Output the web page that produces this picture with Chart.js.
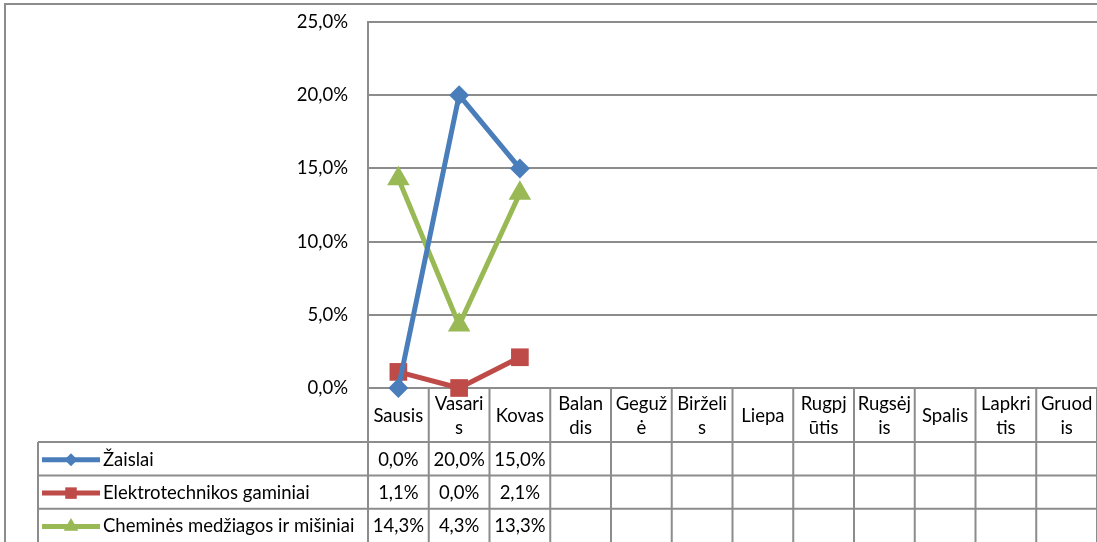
<!DOCTYPE html>
<html>
<head>
<meta charset="utf-8">
<script src="https://cdn.jsdelivr.net/npm/chart.js@4.4.1/dist/chart.umd.min.js"></script>
<style>
  html, body { margin: 0; padding: 0; background: #fff; overflow: hidden; }
  #wrap { width: 1110px; height: 542px; }
</style>
</head>
<body>
<div id="wrap"><canvas id="chart"></canvas></div>
<script>
// month labels, split the way the table cells wrap them
const months = [['Sausis'], ['Vasari', 's'], ['Kovas'], ['Balan', 'dis'], ['Geguž', 'ė'], ['Birželi', 's'],
                ['Liepa'], ['Rugpj', 'ūtis'], ['Rugsėj', 'is'], ['Spalis'], ['Lapkri', 'tis'], ['Gruod', 'is']];
const seriesNames = ['Žaislai', 'Elektrotechnikos gaminiai', 'Cheminės medžiagos ir mišiniai'];
const zaislai  = [0.000, 0.200, 0.150, null, null, null, null, null, null, null, null, null];
const elektro  = [0.011, 0.000, 0.021, null, null, null, null, null, null, null, null, null];
const chemines = [0.143, 0.043, 0.133, null, null, null, null, null, null, null, null, null];
const yMin = 0, yMax = 0.25, yStep = 0.05;

const colors = ['#4A7EBB', '#BE4B48', '#98B954'];
const shapes = ['rectRot', 'rect', 'triangle'];
const radii = [10, 12.5, 13];
const gridColor = '#8c8c8c';
const FS = 18.5;
const FONT = FS + 'px Lato';

const pct = v => (v * 100).toFixed(1).replace('.', ',') + '%';

// data table under the plot, drawn from the x scale columns
const tablePlugin = {
  id: 'dataTable',
  beforeDatasetsDraw(chart) {
    const { ctx, chartArea: a, scales: { x } } = chart;
    const colW = x.getPixelForValue(1) - x.getPixelForValue(0);
    const hdrBottom = a.bottom + 54;
    const rowH = 33.4;
    const H = chart.height;
    const tableLeft = 38;
    const series = chart.data.datasets;

    ctx.save();
    ctx.strokeStyle = gridColor;
    ctx.lineWidth = 2;
    ctx.beginPath();
    // outer frame of the chart object
    ctx.moveTo(5, H); ctx.lineTo(5, 4); ctx.lineTo(chart.width, 4);
    // column separators
    for (let i = 0; i <= months.length; i++) {
      const cx = a.left + i * colW;
      ctx.moveTo(cx, a.bottom);
      ctx.lineTo(cx, H);
    }
    // rows
    for (let r = 0; r < series.length; r++) {
      const ry = hdrBottom + r * rowH;
      ctx.moveTo(tableLeft, ry);
      ctx.lineTo(a.right, ry);
    }
    ctx.moveTo(tableLeft, hdrBottom); ctx.lineTo(tableLeft, H);
    ctx.stroke();

    ctx.fillStyle = '#000';
    ctx.font = FONT;
    ctx.textAlign = 'center';
    ctx.textBaseline = 'middle';
    // header: month names
    months.forEach((m, i) => {
      const cx = x.getPixelForValue(i);
      const cy = (a.bottom + hdrBottom) / 2 + 1;
      const lh = 24;
      m.forEach((t, k) => ctx.fillText(t, cx, cy + (k - (m.length - 1) / 2) * lh));
    });
    // values + legend keys
    series.forEach((ds, r) => {
      const cy = hdrBottom + r * rowH + rowH / 2 + 1;
      ds.data.forEach((v, i) => {
        if (v === null) return;
        ctx.fillText(pct(v), x.getPixelForValue(i), cy);
      });
      ctx.strokeStyle = ds.borderColor;
      ctx.lineWidth = 5;
      ctx.beginPath(); ctx.moveTo(42, cy); ctx.lineTo(100, cy); ctx.stroke();
      ctx.fillStyle = ds.borderColor;
      Chart.helpers.drawPoint(ctx, { pointStyle: ds.pointStyle, radius: ds.pointRadius * 0.65, rotation: 0, borderWidth: 0 }, 71, cy);
      ctx.fillStyle = '#000';
      ctx.textAlign = 'left';
      ctx.fillText(ds.label, 103, cy);
      ctx.textAlign = 'center';
    });
    ctx.restore();
  }
};

new Chart(document.getElementById('chart'), {
  type: 'line',
  data: {
    labels: months,
    datasets: [zaislai, elektro, chemines].map((d, i) => ({
      label: seriesNames[i],
      data: d,
      borderColor: colors[i],
      backgroundColor: colors[i],
      borderWidth: 5,
      pointStyle: shapes[i],
      pointRadius: radii[i],
      pointBorderWidth: 0,
      tension: 0,
      clip: false
    }))
  },
  options: {
    responsive: true,
    maintainAspectRatio: false,
    animation: false,
    layout: { padding: { left: 0, top: 22, right: 10, bottom: 154 } },
    plugins: { legend: { display: false }, tooltip: { enabled: false } },
    scales: {
      x: { display: false, offset: true },
      y: {
        min: yMin, max: yMax,
        afterFit(s) { s.width = 368; s.paddingTop = 0; s.paddingBottom = 0; },
        ticks: { stepSize: yStep, padding: 20, color: '#000', font: { family: 'Lato', size: FS }, callback: v => pct(v) },
        grid: { color: gridColor, lineWidth: 2, drawTicks: false },
        border: { display: true, color: gridColor, width: 2 }
      }
    }
  },
  plugins: [tablePlugin]
});
</script>
</body>
</html>
